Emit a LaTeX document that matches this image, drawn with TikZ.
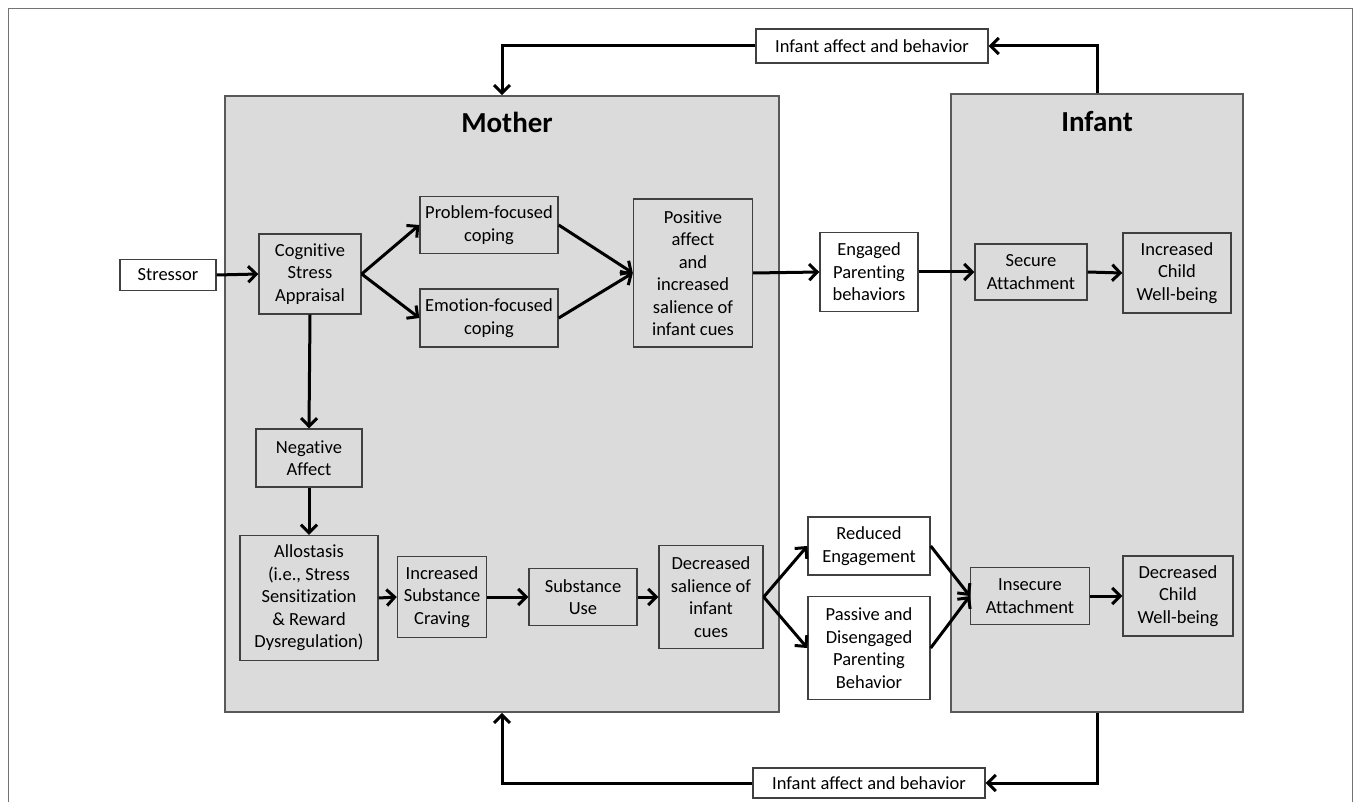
\documentclass[tikz,border=0pt]{standalone}
\usepackage{fontspec}
\setmainfont{Carlito}[Ligatures={NoCommon}]
\usetikzlibrary{arrows.meta,positioning}

\begin{document}
\begin{tikzpicture}[x=1pt,y=-1pt,
   txt/.style={font=\fontsize{18.5}{22.5}\selectfont},
   box/.style={txt,draw=black!75,line width=1.4pt,fill=white,align=center,inner sep=0pt},
   gbox/.style={box,fill=black!14},
   panel/.style={draw=black!65,line width=1.6pt,fill=black!14,inner sep=0pt},
   ttl/.style={font=\fontsize{29}{34}\selectfont\bfseries},
   sz/.style 2 args={minimum width=#1pt,minimum height=#2pt},
   arr/.style={-{Straight Barb[length=8pt,width=16pt]},line width=3pt}]
  \useasboundingbox (0,0) rectangle (1354,802);
  \draw[black!55,line width=1pt] (8,802) -- (8,9) -- (1352,9) -- (1352,802);
  % panels
  \node[panel,sz={554}{616}] (mother) at (502,404) {};
  \node[panel,sz={292}{618}] (infant) at (1097,403) {};
  \node[ttl] (mtitle) at (507,122) {Mother};
  \node[ttl] (ititle) at (1097,122) {Infant};
  % upper path
  \node[box,sz={96}{31}] (stressor) at (168,275) {Stressor};
  \node[gbox,sz={102}{80}] (appraisal) at (310,274) {Cognitive\\Stress\\Appraisal};
  \node[gbox,sz={138}{57}] (probcope) at (489,225) {Problem-focused\\coping};
  \node[gbox,sz={138}{58}] (emocope) at (489,318) {Emotion-focused\\coping};
  \node[gbox,sz={119}{148}] (posaff) at (693,273) {Positive\\affect\\and\\increased\\salience of\\infant cues};
  \node[box,sz={98}{79}] (engaged) at (869,272) {Engaged\\Parenting\\behaviors};
  \node[gbox,sz={112}{56}] (secure) at (1031,272) {Secure\\Attachment};
  \node[gbox,sz={108}{80}] (incwell) at (1177,273) {Increased\\Child\\Well-being};
  % lower path
  \node[gbox,sz={106}{58}] (negaff) at (309,458) {Negative\\Affect};
  \node[gbox,sz={138}{125}] (allo) at (309,598) {Allostasis\\(i.e., Stress\\Sensitization\\\& Reward\\Dysregulation)};
  \node[gbox,sz={89}{81}] (craving) at (442,597) {Increased\\Substance\\Craving};
  \node[gbox,sz={108}{57}] (subuse) at (583,597) {Substance\\Use};
  \node[gbox,sz={104}{103}] (decsal) at (711,597) {Decreased\\salience of\\infant\\cues};
  \node[box,sz={122}{58}] (reduced) at (869,546) {Reduced\\Engagement};
  \node[box,sz={122}{103}] (passive) at (869,648) {Passive and\\Disengaged\\Parenting\\Behavior};
  \node[gbox,sz={119}{57}] (insecure) at (1030,596) {Insecure\\Attachment};
  \node[gbox,sz={110}{80}] (decwell) at (1178,596) {Decreased\\Child\\Well-being};
  % feedback
  \node[box,sz={232}{34}] (fbtop) at (872,46) {Infant affect and behavior};
  \node[box,sz={232}{30}] (fbbot) at (869,783) {Infant affect and behavior};

  \foreach \a/\b in {stressor/appraisal,appraisal/probcope,appraisal/emocope,
      probcope/posaff,emocope/posaff,posaff/engaged,engaged/secure,secure/incwell,
      allo/craving,craving/subuse,subuse/decsal,decsal/reduced,decsal/passive,
      reduced/insecure,passive/insecure,insecure/decwell}
    \draw[arr] (\a.east) -- (\b.west);
  \draw[arr] (appraisal.south) -- (negaff.north);
  \draw[arr] (negaff.south) -- (allo.north);
  \draw[arr] (infant.north) |- (fbtop.east);
  \draw[arr] (fbtop.west) -| (mother.north);
  \draw[arr] (infant.south) |- (fbbot.east);
  \draw[arr] (fbbot.west) -| (mother.south);
\end{tikzpicture}
\end{document}
